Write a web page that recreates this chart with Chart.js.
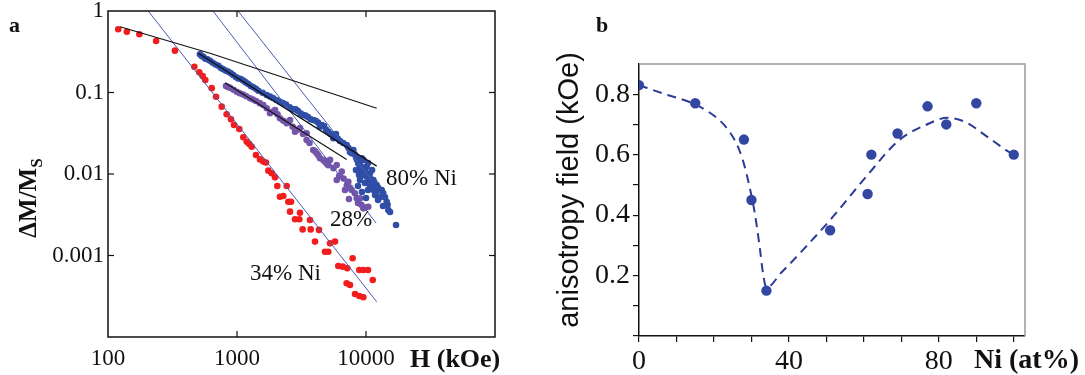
<!DOCTYPE html>
<html><head><meta charset="utf-8">
<script src="https://cdn.jsdelivr.net/npm/chart.js@4"></script>
<style>
html,body{margin:0;padding:0;background:#fff;}
#wrap{position:relative;width:1085px;height:375px;overflow:hidden;background:#fff;}
canvas{position:absolute;top:0;}
.t{position:absolute;white-space:nowrap;color:#111;font-family:"Liberation Serif","Times New Roman",serif;line-height:1;}
.b{font-weight:bold;}
.rot{transform:translate(-50%,-50%) rotate(-90deg);transform-origin:center center;}
</style></head><body>
<div id="wrap">
<canvas id="ca" width="540" height="375" style="left:0;width:540px;height:375px"></canvas>
<canvas id="cb" width="545" height="375" style="left:540px;width:545px;height:375px"></canvas>
<div class="t b" style="left:9px;top:14px;font-size:22px;">a</div>
<div class="t b rot" style="left:30px;top:198px;font-size:25px;">ΔM/M<sub style="font-size:17px;">S</sub></div>
<div class="t b" style="left:410px;top:346px;font-size:26px;">H (kOe)</div>
<div class="t" style="left:386px;top:166px;font-size:23px;">80% Ni</div>
<div class="t" style="left:330px;top:207px;font-size:23px;">28%</div>
<div class="t" style="left:250px;top:261px;font-size:23px;">34% Ni</div>
<div class="t b" style="left:596px;top:14px;font-size:22px;">b</div>
<div class="t rot" style="left:568px;top:190px;font-size:29px;font-family:'Liberation Sans',Arial,sans-serif;">anisotropy field (kOe)</div>
<div class="t b" style="left:974px;top:345px;font-size:28px;">Ni (at%)</div>
</div>
<script>
// ---------- Panel a data ----------
const redH = [120,140,175,236,330,467,510,542,568,637,688,761,831,898,948,1042,1119,1189,1245,1300,1403,1507,1598,1678,1749,1858,1971,2053,2153,2285,2428,2500,2624,2576,2818,3041,3076,3228,3680,3725,4024,4322,4809,5103,5260,5754,6100,6596,7159,7880,7080,7516,8873,9530,10370,11280,8220,8873,9530];
const redM = [0.596,0.557,0.518,0.428,0.326,0.207,0.177,0.159,0.142,0.113,0.0888,0.067,0.0541,0.0469,0.0399,0.0357,0.0282,0.0249,0.0233,0.0216,0.0171,0.0151,0.0142,0.0138,0.011,0.0102,0.0091,0.00713,0.00526,0.00537,0.00713,0.00457,0.00457,0.00345,0.00278,0.00278,0.00335,0.00209,0.00273,0.00209,0.00148,0.00206,0.00111,0.00111,0.00141,0.00148,0.000743,0.00073,0.000697,0.000925,0.000456,0.000435,0.000664,0.000664,0.000664,0.0005,0.000337,0.000318,0.000307];
const blueH = [516,548,589,648,717,783,857,936,1023,1119,1223,1338,1463,1699,1901,2153,2398,2731,2970,3266,3548,3900,4244,4397,4721,5100,5578,5851,6283,7080,7516,7976,8360,8713,9265,9530,9265,10120,10120,10740,10740,11400,11400,12100,12100,13240,12850,14030,14460,14890,17100,9640,10370,8830,11140,10540,9820,
  532,568,618,682,750,820,896,980,1070,1170,1280,1400,1580,1800,2020,2270,2560,2850,3120,3400,3720,4070,4550,4900,5330,5700,6050,6650,7300,7750,8150,8500,9000,9800,10400,11000,11700,12400,13600,14700,9100,9900,10800,11600,
  8360,8980,9640,10370,11140,11750,9310,12400,10000,8670,13550,15350];
const blueM = [0.294,0.275,0.255,0.232,0.213,0.193,0.18,0.164,0.149,0.14,0.127,0.116,0.105,0.0931,0.0857,0.0771,0.0713,0.0622,0.0593,0.053,0.05,0.046,0.0429,0.038,0.0388,0.033,0.0274,0.031,0.0254,0.0227,0.0186,0.0197,0.0162,0.0135,0.0156,0.0149,0.0107,0.0123,0.00927,0.0102,0.00699,0.00844,0.00637,0.00733,0.00607,0.00637,0.00518,0.00518,0.00457,0.00362,0.00237,0.0119,0.0136,0.0097,0.0112,0.00844,0.00776,
  0.28,0.26,0.245,0.22,0.2,0.185,0.172,0.155,0.146,0.133,0.12,0.111,0.099,0.089,0.081,0.074,0.066,0.062,0.055,0.052,0.047,0.045,0.04,0.035,0.031,0.029,0.027,0.024,0.021,0.018,0.0175,0.015,0.0128,0.0112,0.0095,0.0078,0.0071,0.0068,0.0058,0.0042,0.0118,0.0101,0.0088,0.0079,
  0.0112,0.00844,0.0097,0.00637,0.00733,0.00552,0.00601,0.0048,0.00508,0.00713,0.00405,0.00342];
const purpleH = [822,883,995,1114,1262,1403,1598,1803,1971,2153,2427,2576,2818,3076,3467,3467,3900,4146,4397,4667,4955,5260,5929,5929,6486,6871,7295,7744,8472,8980,9530,10420,
  850,940,1050,1180,1330,1500,1700,1880,2060,2290,2500,2700,2950,3250,3650,4030,4270,4800,5100,5600,6200,6700,7100,7500,8200,8700,9200,10000,
  7380,8670,6283];
const purpleM = [0.12,0.114,0.102,0.0945,0.0849,0.0787,0.0703,0.0556,0.061,0.0482,0.0419,0.046,0.033,0.0367,0.0316,0.0261,0.0197,0.018,0.0156,0.0149,0.0135,0.0149,0.0129,0.00844,0.0107,0.00637,0.00805,0.00637,0.00503,0.00503,0.00379,0.00397,
  0.117,0.108,0.098,0.09,0.082,0.074,0.064,0.058,0.054,0.045,0.043,0.038,0.035,0.031,0.024,0.019,0.017,0.0142,0.0128,0.0118,0.0095,0.0088,0.0072,0.0068,0.0058,0.0048,0.0042,0.0039,
  0.00493,0.0044,0.00945];
// fitted lines (end points)
const blackFit1H = [124, 618, 12100], blackFit1M = [0.642, 0.303, 0.064];
const blackFit2H = [501, 12100],      blackFit2M = [0.303, 0.0125];
const blackFit3H = [807, 7080],       blackFit3M = [0.132, 0.0151];
const blueFitAH = [205, 12100],       blueFitAM = [1, 0.000271];
const blueFitBH = [651, 11970],       blueFitBM = [1, 0.0025];
const blueFitCH = [1018, 11140],      blueFitCM = [1, 0.0084];
const xTicksA = [100, 1000, 10000, 100000];
const xTickLabelsA = ['100', '1000', '10000', ''];
const yTicksA = [0.0001, 0.001, 0.01, 0.1, 1];
const yTickLabelsA = ['', '0.001', '0.01', '0.1', '1'];
const xMarksA = [1000, 10000];
const yMarksA = [0.001, 0.01, 0.1];

// ---------- Panel b data ----------
const niPct = [0, 15, 28, 30, 34, 51, 61, 62, 69, 77, 82, 90, 100];
const anisoField = [0.83, 0.77, 0.65, 0.45, 0.15, 0.35, 0.47, 0.60, 0.67, 0.76, 0.70, 0.77, 0.60];
const curveNi = [0, 6.5, 15, 21.5, 24.2, 26, 27.7, 29.5, 30.9, 32.2, 33.1, 34, 38, 43.7, 51.7, 60.6, 69.4, 76.5, 82.3, 87.1, 92.4, 98.7, 100];
const curveField = [0.83, 0.802, 0.766, 0.714, 0.675, 0.637, 0.582, 0.494, 0.406, 0.295, 0.207, 0.16, 0.21, 0.284, 0.394, 0.527, 0.648, 0.698, 0.722, 0.708, 0.664, 0.609, 0.60];
const xTicksB = [0,10,20,30,40,50,60,70,80,90,100];
const xTickLabelsB = ['0','','','','40','','','','80','',''];
const yTicksB = [0,0.1,0.2,0.3,0.4,0.5,0.6,0.7,0.8];
const yTickLabelsB = ['','','0.2','','0.4','','0.6','','0.8'];

const SERIF = '"Liberation Serif","Times New Roman",serif';
const pts = (xs, ys) => xs.map((x, i) => ({x, y: ys[i]}));

function scatterDs(xs, ys, color) {
  return {type:'scatter', data: pts(xs, ys), showLine:false, pointRadius:3.3, pointBackgroundColor:color, pointBorderWidth:0, order:2};
}
function lineDs(xs, ys, color, w) {
  return {type:'line', data: pts(xs, ys), showLine:true, pointRadius:0, borderColor:color, borderWidth:w, fill:false, tension:0, order:1};
}

const frameA = {
  id:'frameA',
  afterDatasetsDraw(chart){
    const {ctx, chartArea:a, scales:{x, y}} = chart;
    ctx.save();
    ctx.strokeStyle = '#111';
    ctx.lineWidth = 1.5;
    ctx.strokeRect(a.left, a.top, a.right - a.left, a.bottom - a.top);
    ctx.lineWidth = 1.2;
    const L = (x1,y1,x2,y2) => {ctx.beginPath(); ctx.moveTo(x1,y1); ctx.lineTo(x2,y2); ctx.stroke();};
    xMarksA.forEach(v => { const p = x.getPixelForValue(v); L(p, a.bottom, p, a.bottom - 6); L(p, a.top, p, a.top + 6); });
    yMarksA.forEach(v => { const p = y.getPixelForValue(v); L(a.left, p, a.left + 6, p); L(a.right, p, a.right - 6, p); });
    ctx.restore();
  }
};

new Chart(document.getElementById('ca'), {
  type:'scatter',
  data:{datasets:[
    lineDs(blackFit1H, blackFit1M, '#111', 1.1),
    lineDs(blackFit2H, blackFit2M, '#111', 1.3),
    lineDs(blackFit3H, blackFit3M, '#111', 1.1),
    lineDs(blueFitAH, blueFitAM, '#4a5bb5', 1),
    lineDs(blueFitBH, blueFitBM, '#4a5bb5', 1),
    lineDs(blueFitCH, blueFitCM, '#4a5bb5', 1),
    scatterDs(blueH, blueM, '#2f4ea6'),
    scatterDs(purpleH, purpleM, '#7455a9'),
    scatterDs(redH, redM, '#f21d1d')
  ]},
  options:{
    responsive:false, animation:false, devicePixelRatio:1,
    layout:{padding:{left:0, right:45, top:11, bottom:0}},
    plugins:{legend:{display:false}, tooltip:{enabled:false}},
    scales:{
      x:{type:'logarithmic', min:100, max:100000,
        afterBuildTicks:s=>{s.ticks = xTicksA.map(v=>({value:v}));},
        afterFit:s=>{s.height = 38; s.paddingLeft = 0; s.paddingRight = 0;},
        grid:{display:false, drawTicks:false}, border:{display:false},
        ticks:{autoSkip:false, maxRotation:0, padding:8, color:'#111', font:{family:SERIF, size:23},
          callback:(v, i)=>xTickLabelsA[i]}
      },
      y:{type:'logarithmic', min:0.0001, max:1,
        afterBuildTicks:s=>{s.ticks = yTicksA.map(v=>({value:v}));},
        afterFit:s=>{s.width = 108; s.paddingTop = 0; s.paddingBottom = 0;},
        grid:{display:false, drawTicks:false}, border:{display:false},
        ticks:{autoSkip:false, padding:4, color:'#111', font:{family:SERIF, size:23},
          callback:(v, i)=>yTickLabelsA[i]}
      }
    }
  },
  plugins:[frameA]
});

const frameB = {
  id:'frameB',
  beforeDatasetsDraw(chart){
    const {ctx, chartArea:a} = chart;
    ctx.save();
    ctx.strokeStyle = '#9a9a9a';
    ctx.lineWidth = 1.5;
    ctx.beginPath(); ctx.moveTo(a.left, a.top); ctx.lineTo(a.right, a.top); ctx.lineTo(a.right, a.bottom); ctx.stroke();
    ctx.restore();
  }
};

new Chart(document.getElementById('cb'), {
  type:'scatter',
  data:{datasets:[
    {type:'line', data: pts(curveNi, curveField), showLine:true, pointRadius:0, borderColor:'#2b3b96', borderWidth:2, borderDash:[9,6], cubicInterpolationMode:'monotone', fill:false, order:2},
    {type:'scatter', data: pts(niPct, anisoField), pointRadius:5.2, pointBackgroundColor:'#3347a2', pointBorderWidth:0, order:1}
  ]},
  options:{
    responsive:false, animation:false, devicePixelRatio:1,
    layout:{padding:{left:0, right:60, top:64, bottom:0}},
    plugins:{legend:{display:false}, tooltip:{enabled:false}},
    scales:{
      x:{type:'linear', min:0, max:103,
        afterBuildTicks:s=>{s.ticks = xTicksB.map(v=>({value:v}));},
        afterFit:s=>{s.height = 39; s.paddingLeft = 0; s.paddingRight = 0;},
        grid:{drawOnChartArea:false, drawTicks:true, tickLength:6, color:'#111', lineWidth:1.2},
        border:{display:true, color:'#111', width:1.5},
        ticks:{autoSkip:false, maxRotation:0, padding:3, color:'#111', font:{family:SERIF, size:28},
          callback:(v, i)=>xTickLabelsB[i]}
      },
      y:{type:'linear', min:0, max:0.9,
        afterBuildTicks:s=>{s.ticks = yTicksB.map(v=>({value:v}));},
        afterFit:s=>{s.width = 99; s.paddingTop = 0; s.paddingBottom = 0;},
        grid:{drawOnChartArea:false, drawTicks:true, tickLength:6, color:'#111', lineWidth:1.2},
        border:{display:true, color:'#111', width:1.5},
        ticks:{autoSkip:false, padding:3, color:'#111', font:{family:SERIF, size:28},
          callback:(v, i)=>yTickLabelsB[i]}
      }
    }
  },
  plugins:[frameB]
});
</script>
</body></html>
